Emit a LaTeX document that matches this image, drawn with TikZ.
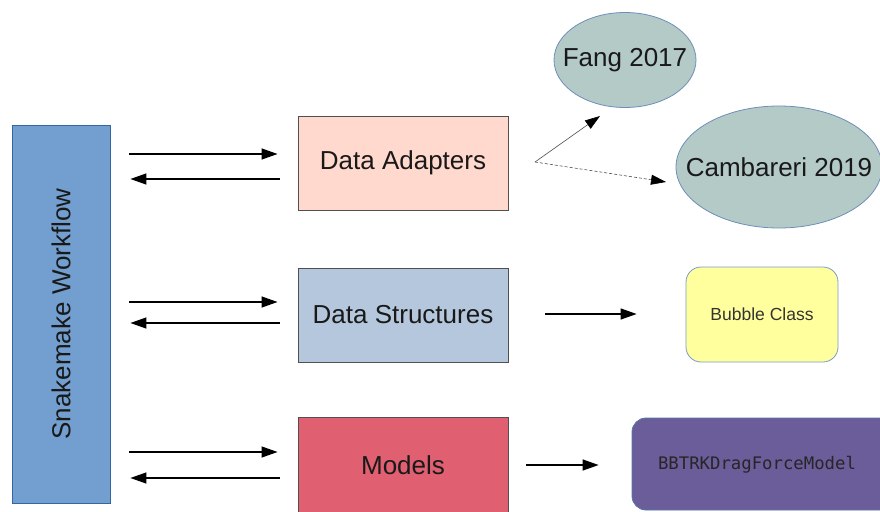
\documentclass[tikz,border=0pt]{standalone}
\usepackage{fontspec}
\setmainfont{Liberation Sans}
\newfontfamily\monofnt{DejaVu Sans Mono}
\usetikzlibrary{arrows.meta,shapes.geometric}
\definecolor{snakefill}{HTML}{729FCF}
\definecolor{snakeline}{HTML}{3465A4}
\definecolor{adaptfill}{HTML}{FFD8CE}
\definecolor{structfill}{HTML}{B4C7DC}
\definecolor{modelfill}{HTML}{E06072}
\definecolor{ellfill}{HTML}{B3CAC7}
\definecolor{ellline}{HTML}{6E8FB8}
\definecolor{bubfill}{HTML}{FFFF9E}
\definecolor{bubline}{HTML}{7A9BC8}
\definecolor{bbfill}{HTML}{6B5C9A}
\definecolor{bbline}{HTML}{5577AA}
\definecolor{boxline}{HTML}{505050}
\tikzset{
  bigtext/.style={font=\fontsize{26}{30}\selectfont, text=black!90},
  modbox/.style={draw=boxline, line width=0.9pt, minimum width=210pt, minimum height=94pt, bigtext, inner sep=0pt},
  refell/.style={ellipse, draw=ellline, fill=ellfill, line width=0.8pt, inner sep=0pt, label={[bigtext]center:#1}},
  arr/.style={line width=1.3pt, -{Triangle[length=16pt,width=11pt]}},
  thinarr/.style={line width=0.6pt, draw=black!70, -{Triangle[length=15pt,width=10pt,fill=black,color=black]}},
}
\begin{document}
\begin{tikzpicture}[x=1pt,y=-1pt]
\useasboundingbox (0,0) rectangle (880,511);
\clip (0,0) rectangle (880,511);
% left workflow box
\node[draw=snakeline, fill=snakefill, line width=0.8pt, minimum width=98pt, minimum height=378pt, inner sep=0pt] (snake) at (61,314) {};
\node[rotate=90, bigtext] (snaketxt) at (snake.center) {Snakemake Workflow};
% middle boxes
\node[modbox, fill=adaptfill] (da) at (403,163) {Data Adapters};
\node[modbox, fill=structfill] (ds) at (403,315) {Data Structures};
\node[modbox, fill=modelfill, minimum height=100pt] (md) at (403,467) {};
\node[bigtext] (mdtxt) at (403,465) {Models};
% right side
\node[refell={Fang 2017}, minimum width=142pt, minimum height=95pt] (fang) at (625,60) {};
\node[refell={Cambareri 2019}, minimum width=206pt, minimum height=122pt] (camb) at (779,167) {};
\node[draw=bubline, fill=bubfill, line width=0.8pt, rounded corners=15pt, minimum width=152pt, minimum height=95pt, inner sep=0pt, font=\fontsize{17.5}{20}\selectfont, text=black!80] (bub) at (762,314.5) {Bubble Class};
\node[draw=bbline, fill=bbfill, line width=0.8pt, rounded corners=14pt, minimum width=270pt, minimum height=92pt, inner sep=0pt] (bb) at (767,464) {};
\node[font=\monofnt\fontsize{17.3}{20}\selectfont, text=black!85] (bbtxt) at (757,465) {BBTRKDragForceModel};
% workflow arrows
\draw[arr, shorten <=19pt, shorten >=20pt] (snake.east |- 0,154) -- (da.west |- 0,154);
\draw[arr, shorten <=18pt, shorten >=20pt] (da.west |- 0,179) -- (snake.east |- 0,179);
\draw[arr, shorten <=19pt, shorten >=20pt] (snake.east |- 0,302) -- (ds.west |- 0,302);
\draw[arr, shorten <=18pt, shorten >=20pt] (ds.west |- 0,323) -- (snake.east |- 0,323);
\draw[arr, shorten <=19pt, shorten >=20pt] (snake.east |- 0,452) -- (md.west |- 0,452);
\draw[arr, shorten <=18pt, shorten >=20pt] (md.west |- 0,478) -- (snake.east |- 0,478);
% right arrows
\draw[arr, shorten <=37pt, shorten >=49pt] (ds.east |- 0,314) -- (bub.west |- 0,314);
\draw[arr, shorten <=18pt, shorten >=33pt] (md.east |- 0,465) -- (bb.west |- 0,465);
% adapter split arrows
\coordinate (split) at (535,162);
\coordinate (fangin) at (600,116);
\coordinate (cambin) at (666,182);
\draw[thinarr] (split) -- (fangin);
\draw[thinarr, dashed, dash pattern=on 3pt off 2pt] (split) -- (cambin);
\end{tikzpicture}
\end{document}
